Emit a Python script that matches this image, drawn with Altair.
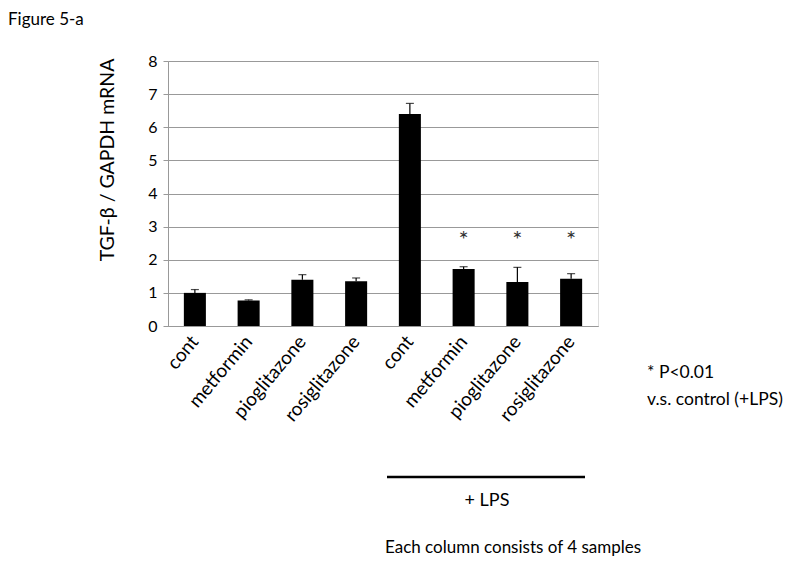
import altair as alt
import pandas as pd

labels = ["cont", "metformin", "pioglitazone", "rosiglitazone",
          "cont", "metformin", "pioglitazone", "rosiglitazone"]
means = [1.00, 0.77, 1.40, 1.35, 6.40, 1.72, 1.33, 1.43]
err_top = [1.10, 0.79, 1.55, 1.45, 6.72, 1.79, 1.77, 1.58]
star = ["", "", "", "", "", "*", "*", "*"]
star_y = 2.72
y_ticks = [0, 1, 2, 3, 4, 5, 6, 7, 8]

df = pd.DataFrame({
    "idx": list(range(len(labels))),
    "label": labels,
    "mean": means,
    "top": err_top,
    "star": star,
})
df["star_y"] = star_y

FONT = "Lato"
label_expr = "[" + ",".join("'" + l + "'" for l in labels) + "][datum.value]"

x_axis = alt.Axis(labelExpr=label_expr, labelAngle=-50, labelAlign="right",
                  labelBaseline="middle", labelFontSize=19, labelFont=FONT,
                  labelColor="black", ticks=False, domainColor="#999999",
                  labelPadding=12, domainWidth=1, title=None)
y_axis = alt.Axis(values=y_ticks, labelFontSize=16, labelFont=FONT,
                  labelColor="black", tickColor="#999999", tickSize=5,
                  domainColor="#999999", gridColor="#999999", gridWidth=1,
                  labelPadding=6, labelOverlap=False, title=None)
x_scale = alt.Scale(paddingInner=0.59, paddingOuter=0.295)
y_scale = alt.Scale(domain=[0, 8], nice=False)
order = list(range(len(labels)))

def X():
    return alt.X("idx:O", sort=order, scale=x_scale, axis=x_axis)

def Y(field):
    return alt.Y(field, scale=y_scale, axis=y_axis)

base = alt.Chart(df)

bars = base.mark_bar(color="black").encode(x=X(), y=Y("mean:Q"))
err = base.mark_rule(color="black", strokeWidth=1.2).encode(x=X(), y=Y("mean:Q"), y2="top:Q")
caps = base.mark_tick(color="black", size=8, thickness=1.2, orient="horizontal").encode(
    x=X(), y=Y("top:Q"))
stars = base.mark_text(fontSize=24, font=FONT, color="#333333", baseline="middle", dy=5).encode(
    x=X(), y=Y("star_y:Q"), text="star:N")

def txt(s, x, y, size=16.5, align="left", angle=0):
    return alt.Chart(pd.DataFrame({"t": [s]})).mark_text(
        fontSize=size, font=FONT, color="black", align=align, baseline="middle",
        angle=angle).encode(x=alt.value(x), y=alt.value(y), text="t:N")

annots = [
    txt("Figure 5-a", -160, -41, size=17),
    txt("TGF-β  / GAPDH mRNA", -60, 99, size=19.5, align="center", angle=270),
    txt("* P<0.01", 479, 312, size=17.5),
    txt("v.s. control (+LPS)", 479, 339, size=17.5),
    txt("+ LPS", 319, 440, size=18, align="center"),
    txt("Each column consists of 4 samples", 217, 487, size=17),
]

line = alt.Chart(pd.DataFrame({"a": [0]})).mark_rule(color="black", strokeWidth=2.5).encode(
    x=alt.value(219), x2=alt.value(417), y=alt.value(416))

chart = alt.layer(bars, err, caps, stars, line, *annots).properties(
    width=430, height=265,
    autosize=alt.AutoSizeParams(type="none"),
    padding={"left": 160, "top": 53, "right": 194, "bottom": 241},
).configure_view(strokeWidth=0).configure(background="white")

chart.save("out.html", embed_options={"renderer": "svg", "actions": False})
